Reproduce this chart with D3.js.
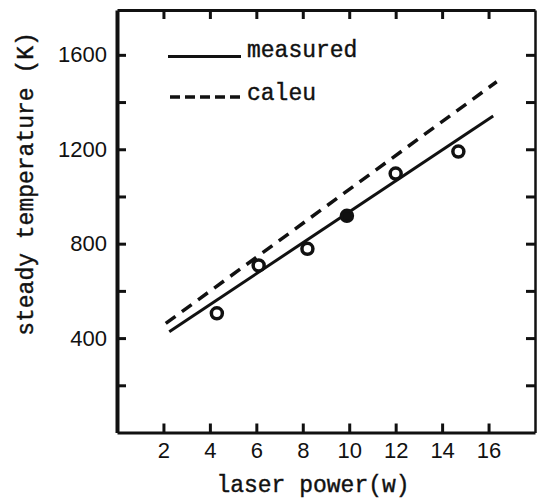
<!DOCTYPE html>
<html>
<head>
<meta charset="utf-8">
<script src="https://cdn.jsdelivr.net/npm/d3@7"></script>
<style>
  body { margin: 0; background: #fff; }
  .tick text { font-family: "Liberation Sans", sans-serif; font-size: 22px; fill: #111; }
  .mono { font-family: "Liberation Mono", monospace; font-size: 23px; fill: #111; stroke: #111; stroke-width: 0.4px; }
</style>
</head>
<body>
<div id="chart"></div>
<script>
var xTicks = [2, 4, 6, 8, 10, 12, 14, 16];
var yTicks = [200, 400, 600, 800, 1000, 1200, 1400, 1600];
var yLabels = [400, 800, 1200, 1600];

var measuredX = [2.25, 16.2];
var measuredY = [427, 1341];
var calcX = [2.1, 16.35];
var calcY = [462, 1486];

var pointX = [4.3, 6.1, 8.2, 9.9, 12.0, 14.7];
var pointY = [505, 708, 778, 918, 1097, 1190];
var pointFilled = [false, false, false, true, false, false];

var seriesNames = ['measured', 'caleu'];

var width = 537, height = 501;
var ink = '#111';

var x_scale = d3.scaleLinear().domain([0, 18]).range([117, 535]);
var y_scale = d3.scaleLinear().domain([0, 1790]).range([432.5, 10]);

var svg = d3.select('#chart').append('svg')
  .attr('width', width)
  .attr('height', height);

// axes, ticks pointing inward
var bottom = svg.append('g')
  .attr('transform', 'translate(0,' + y_scale(0) + ')')
  .call(d3.axisBottom(x_scale).tickValues(xTicks).tickSizeInner(-9).tickSizeOuter(0).tickPadding(10));

var left = svg.append('g')
  .attr('transform', 'translate(' + x_scale(0) + ',0)')
  .call(d3.axisLeft(y_scale).tickValues(yTicks).tickSizeInner(-9).tickSizeOuter(0).tickPadding(10)
    .tickFormat(function(d) { return yLabels.indexOf(d) >= 0 ? d : ''; }));

var top = svg.append('g')
  .attr('transform', 'translate(0,' + y_scale(1790) + ')')
  .call(d3.axisTop(x_scale).tickValues(xTicks).tickSizeInner(-9).tickSizeOuter(0).tickFormat(''));

var right = svg.append('g')
  .attr('transform', 'translate(' + x_scale(18) + ',0)')
  .call(d3.axisRight(y_scale).tickValues(yTicks).tickSizeInner(-9).tickSizeOuter(0).tickFormat(''));

svg.selectAll('.domain').attr('stroke', ink).attr('stroke-width', 3);
left.select('.domain').attr('stroke-width', 4);
right.select('.domain').attr('stroke-width', 2.5);
svg.selectAll('.tick line').attr('stroke', ink).attr('stroke-width', 3);
svg.selectAll('.tick text').attr('fill', ink);

// lines
var line = d3.line()
  .x(function(d) { return x_scale(d[0]); })
  .y(function(d) { return y_scale(d[1]); });

svg.append('path')
  .datum(d3.zip(measuredX, measuredY))
  .attr('fill', 'none')
  .attr('stroke', ink)
  .attr('stroke-width', 3)
  .attr('d', line);

svg.append('path')
  .datum(d3.zip(calcX, calcY))
  .attr('fill', 'none')
  .attr('stroke', ink)
  .attr('stroke-width', 3.5)
  .attr('stroke-dasharray', '12,8')
  .attr('d', line);

// data points
svg.selectAll('circle.pt')
  .data(d3.zip(pointX, pointY, pointFilled))
  .enter().append('circle')
  .attr('class', 'pt')
  .attr('cx', function(d) { return x_scale(d[0]); })
  .attr('cy', function(d) { return y_scale(d[1]); })
  .attr('r', 5.5)
  .attr('fill', function(d) { return d[2] ? ink : '#fff'; })
  .attr('stroke', ink)
  .attr('stroke-width', 3.5);

// legend
var legend = svg.append('g');
legend.append('line')
  .attr('x1', 168).attr('x2', 241).attr('y1', 56.5).attr('y2', 56.5)
  .attr('stroke', ink).attr('stroke-width', 3);
legend.append('line')
  .attr('x1', 170).attr('x2', 241).attr('y1', 97).attr('y2', 97)
  .attr('stroke', ink).attr('stroke-width', 3.5)
  .attr('stroke-dasharray', '10,5');
legend.append('text').attr('class', 'mono')
  .attr('x', 247).attr('y', 57).text(seriesNames[0]);
legend.append('text').attr('class', 'mono')
  .attr('x', 247).attr('y', 100).text(seriesNames[1]);

// axis titles
svg.append('text').attr('class', 'mono')
  .attr('x', 313).attr('y', 492)
  .attr('text-anchor', 'middle')
  .text('laser power(w)');

svg.append('text').attr('class', 'mono')
  .attr('transform', 'translate(33,184) rotate(-90)')
  .attr('text-anchor', 'middle')
  .text('steady temperature (K)');
</script>
</body>
</html>
